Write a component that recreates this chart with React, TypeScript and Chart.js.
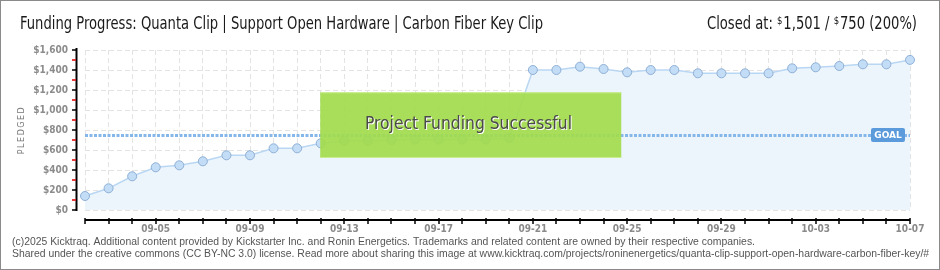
import React, { useEffect, useRef } from "react";
import { Chart, registerables } from "chart.js";

Chart.register(...registerables);

const dates = [
  "09-02", "09-03", "09-04", "09-05", "09-06", "09-07", "09-08", "09-09", "09-10", "09-11",
  "09-12", "09-13", "09-14", "09-15", "09-16", "09-17", "09-18", "09-19", "09-20", "09-21",
  "09-22", "09-23", "09-24", "09-25", "09-26", "09-27", "09-28", "09-29", "09-30", "10-01",
  "10-02", "10-03", "10-04", "10-05", "10-06", "10-07",
];

const pledged = [
  140, 217, 337, 427, 447, 487, 547, 547, 617, 617,
  667, 693, 693, 700, 705, 705, 705, 705, 720, 1400,
  1400, 1433, 1410, 1377, 1400, 1400, 1367, 1367, 1367, 1367,
  1417, 1427, 1440, 1457, 1457, 1501,
];

const goal = 750;
const yTicks = [0, 200, 400, 600, 800, 1000, 1200, 1400, 1600];
const yTickLabels = ["$0", "$200", "$400", "$600", "$800", "$1,000", "$1,200", "$1,400", "$1,600"];
const xTickLabels = ["09-05", "09-09", "09-13", "09-17", "09-21", "09-25", "09-29", "10-03", "10-07"];

const titleText = "Funding Progress: Quanta Clip | Support Open Hardware | Carbon Fiber Key Clip";
const closedParts = ["Closed at: ", "$", "1,501 / ", "$", "750 (200%)"];
const bannerText = "Project Funding Successful";
const footer1 =
  "(c)2025 Kicktraq. Additional content provided by Kickstarter Inc. and Ronin Energetics. Trademarks and related content are owned by their respective companies.";
const footer2 =
  "Shared under the creative commons (CC BY-NC 3.0) license. Read more about sharing this image at www.kicktraq.com/projects/roninenergetics/quanta-clip-support-open-hardware-carbon-fiber-key/#";

const NARROW = "'Liberation Sans Narrow', 'DejaVu Sans Condensed', sans-serif";

function fitText(ctx: CanvasRenderingContext2D, text: string, x: number, y: number, width: number) {
  const w = ctx.measureText(text).width;
  ctx.save();
  ctx.translate(x, y);
  ctx.scale(width / w, 1);
  ctx.textAlign = "left";
  ctx.fillText(text, 0, 0);
  ctx.restore();
}

const overlay = {
  id: "kicktraqOverlay",
  beforeDraw(chart: any) {
    const ctx = chart.ctx;
    ctx.save();
    ctx.fillStyle = "#ffffff";
    ctx.fillRect(0, 0, chart.width, chart.height);
    ctx.restore();
  },
  afterDatasetsDraw(chart: any) {
    const ctx = chart.ctx;
    const xs = chart.scales.x;
    const ys = chart.scales.y;
    const area = chart.chartArea;
    ctx.save();

    // goal line
    const gy = Math.round(ys.getPixelForValue(goal)) + 0.5;
    ctx.strokeStyle = "#86b7ea";
    ctx.lineWidth = 3;
    ctx.setLineDash([3, 1.5]);
    ctx.beginPath();
    ctx.moveTo(area.left, gy);
    ctx.lineTo(area.right, gy);
    ctx.stroke();
    ctx.setLineDash([]);

    // banner
    const bx1 = xs.getPixelForValue(10) - 0.5;
    const bx2 = xs.getPixelForValue(22.75);
    const by1 = ys.getPixelForValue(1177);
    const by2 = ys.getPixelForValue(520);
    ctx.fillStyle = "rgba(162, 219, 76, 0.92)";
    ctx.fillRect(bx1, by1, bx2 - bx1, by2 - by1);
    ctx.fillStyle = "rgba(205, 238, 150, 0.9)";
    ctx.fillRect(bx1, by1, bx2 - bx1, 1);
    ctx.fillRect(bx1, by2 - 1, bx2 - bx1, 1);
    ctx.font = `18px ${NARROW}`;
    ctx.textBaseline = "middle";
    const bcy = (by1 + by2) / 2 - 1;
    ctx.fillStyle = "#ffffff";
    fitText(ctx, bannerText, 366, bcy + 1, 207);
    ctx.fillStyle = "#4a4a4a";
    fitText(ctx, bannerText, 365, bcy, 207);

    // goal label
    const lx = area.right - 39;
    ctx.fillStyle = "#5b9bdb";
    ctx.beginPath();
    (ctx as any).roundRect(lx, gy - 7.5, 34, 14, 2);
    ctx.fill();
    ctx.fillStyle = "#ffffff";
    ctx.font = `bold 9px 'DejaVu Sans', sans-serif`;
    ctx.textAlign = "center";
    ctx.fillText("GOAL", lx + 17, gy);

    ctx.restore();
  },
  afterDraw(chart: any) {
    const ctx = chart.ctx;
    const xs = chart.scales.x;
    const ys = chart.scales.y;
    const area = chart.chartArea;
    ctx.save();

    // y axis
    const ax = 76.5;
    ctx.strokeStyle = "#000000";
    ctx.lineWidth = 2;
    ctx.beginPath();
    ctx.moveTo(ax, area.top - 2);
    ctx.lineTo(ax, area.bottom + 1);
    ctx.stroke();
    ctx.lineWidth = 1.5;
    yTicks.forEach((v, i) => {
      const y = Math.round(ys.getPixelForValue(v));
      ctx.strokeStyle = "#000000";
      ctx.beginPath();
      ctx.moveTo(72, y);
      ctx.lineTo(77, y);
      ctx.stroke();
      if (i < yTicks.length - 1) {
        const ym = Math.round(ys.getPixelForValue(v + 100));
        ctx.strokeStyle = "#e00000";
        ctx.beginPath();
        ctx.moveTo(72, ym);
        ctx.lineTo(76, ym);
        ctx.stroke();
      }
    });
    ctx.font = `bold 10px 'DejaVu Sans Condensed', 'DejaVu Sans', sans-serif`;
    ctx.textAlign = "right";
    ctx.textBaseline = "middle";
    ctx.fillStyle = "#8c8c8c";
    yTicks.forEach((v, i) => {
      ctx.fillText(yTickLabels[i], 68, ys.getPixelForValue(v));
    });

    // PLEDGED
    ctx.save();
    ctx.translate(22, 130);
    ctx.rotate(-Math.PI / 2);
    ctx.font = `8px 'DejaVu Sans', sans-serif`;
    (ctx as any).letterSpacing = "1.5px";
    ctx.textAlign = "center";
    ctx.fillStyle = "#777777";
    ctx.fillText("PLEDGED", 0, 0);
    ctx.restore();

    // x axis
    const axy = area.bottom + 10;
    ctx.strokeStyle = "#000000";
    ctx.lineWidth = 2;
    ctx.beginPath();
    ctx.moveTo(area.left, axy);
    ctx.lineTo(area.right, axy);
    ctx.stroke();
    ctx.lineWidth = 1.5;
    dates.forEach((d, i) => {
      const x = Math.round(xs.getPixelForValue(i));
      ctx.beginPath();
      ctx.moveTo(x, axy - 2);
      ctx.lineTo(x, axy + 4);
      ctx.stroke();
    });
    ctx.font = `bold 10px ${NARROW}`;
    ctx.textAlign = "center";
    ctx.textBaseline = "middle";
    ctx.fillStyle = "#8a8a8a";
    xTickLabels.forEach((lab) => {
      const i = dates.indexOf(lab);
      ctx.fillText(lab, xs.getPixelForValue(i), axy + 9);
    });

    // title
    ctx.textBaseline = "middle";
    ctx.fillStyle = "#1a1a1a";
    ctx.font = `17px ${NARROW}`;
    fitText(ctx, titleText, 20, 25, 523);

    // closed at
    const bigFont = `17px ${NARROW}`;
    const smallFont = `11px ${NARROW}`;
    let total = 0;
    closedParts.forEach((p) => {
      ctx.font = p === "$" ? smallFont : bigFont;
      total += ctx.measureText(p).width + (p === "$" ? 1 : 0);
    });
    const k = 210 / total;
    ctx.save();
    ctx.translate(707, 0);
    ctx.scale(k, 1);
    let cx = 0;
    ctx.textAlign = "left";
    closedParts.forEach((p) => {
      if (p === "$") {
        ctx.font = smallFont;
        ctx.fillText(p, cx, 21);
        cx += ctx.measureText(p).width + 1;
      } else {
        ctx.font = bigFont;
        ctx.fillText(p, cx, 25);
        cx += ctx.measureText(p).width;
      }
    });
    ctx.restore();

    // footer
    ctx.font = `10px 'Liberation Sans', sans-serif`;
    ctx.fillStyle = "#555555";
    fitText(ctx, footer1, 12, 242, 743);
    const f2w = ctx.measureText(footer2).width * (743 / ctx.measureText(footer1).width);
    fitText(ctx, footer2, 12, 254, f2w);

    // border
    ctx.strokeStyle = "#8a8a8a";
    ctx.lineWidth = 2;
    ctx.strokeRect(0, 0, chart.width, chart.height);

    ctx.restore();
  },
};

export default function App() {
  const ref = useRef<HTMLCanvasElement | null>(null);
  useEffect(() => {
    document.body.style.margin = "0";
    if (!ref.current) return;
    const chart = new Chart(ref.current, {
      type: "line",
      data: {
        labels: dates,
        datasets: [
          {
            data: pledged,
            fill: "origin",
            backgroundColor: "#ecf4fc",
            borderColor: "#b9d7f3",
            borderWidth: 1.5,
            pointRadius: 4.5,
            pointBackgroundColor: "#c3ddf6",
            pointBorderColor: "#8fb0d6",
            pointBorderWidth: 1,
            tension: 0,
          },
        ],
      },
      options: {
        responsive: false,
        animation: false,
        devicePixelRatio: 1,
        layout: { padding: { left: 85, right: 30, top: 50, bottom: 60 } },
        plugins: { legend: { display: false }, tooltip: { enabled: false } },
        scales: {
          x: {
            type: "category",
            offset: false,
            ticks: { display: false },
            grid: { color: "#e3e3e3", drawTicks: false, tickLength: 0 },
            border: { display: false, dash: [5, 3] },
          },
          y: {
            min: 0,
            max: 1600,
            ticks: { display: false, stepSize: 200 },
            grid: { color: "#e3e3e3", drawTicks: false, tickLength: 0 },
            border: { display: false, dash: [5, 3] },
          },
        },
      },
      plugins: [overlay],
    } as any);
    return () => chart.destroy();
  }, []);
  return (
    <div style={{ position: "absolute", left: 0, top: 0, width: 940, height: 270 }}>
      <canvas ref={ref} width={940} height={270} style={{ display: "block" }} />
    </div>
  );
}
